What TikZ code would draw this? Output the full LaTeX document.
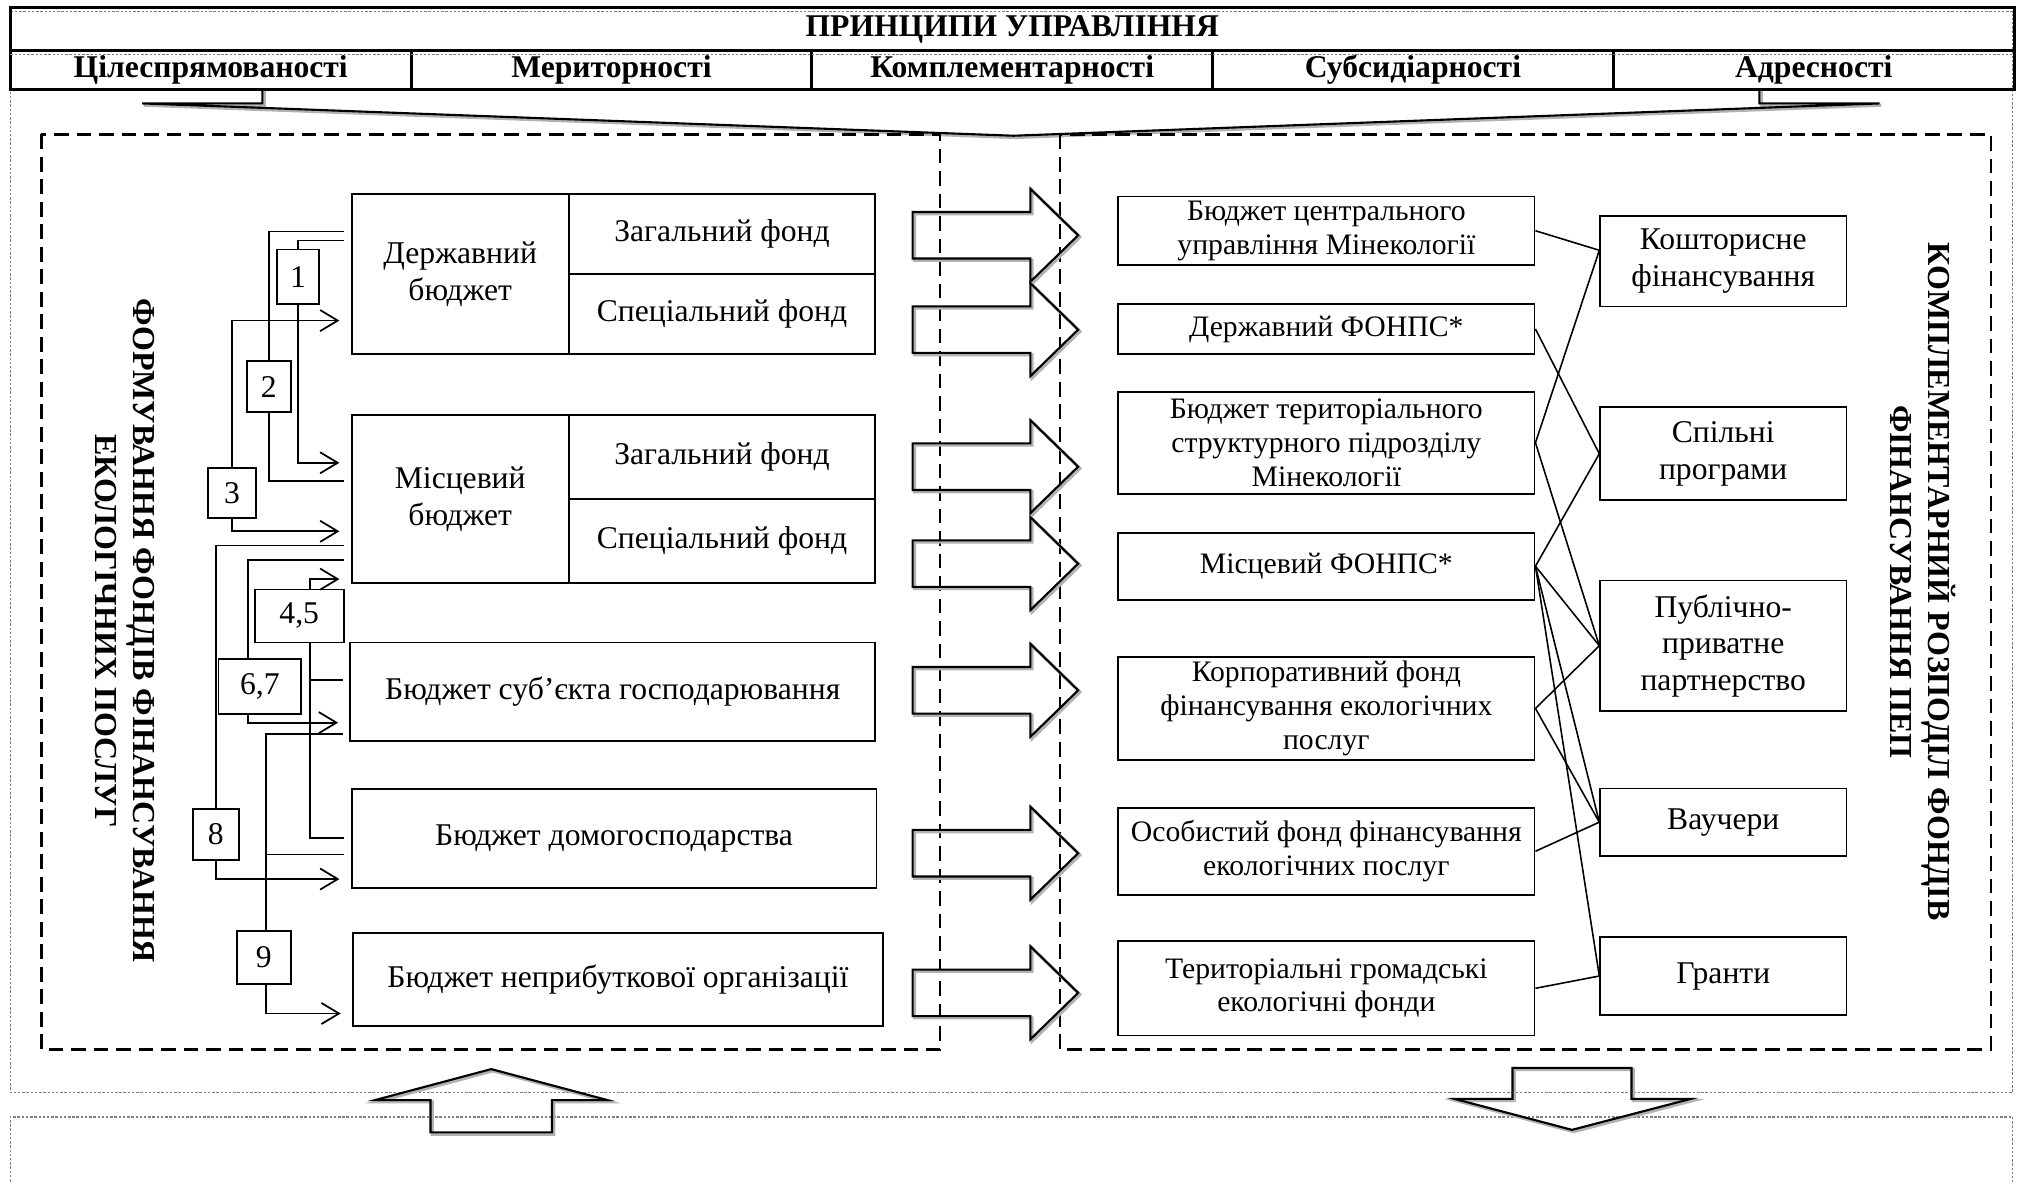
\documentclass[tikz,border=0pt]{standalone}
\usepackage{fontspec}
\setmainfont{Liberation Serif}
\usetikzlibrary{arrows.meta}
\newcommand{\pxu}{0.012927cm}

\begin{document}
\begin{tikzpicture}[x=\pxu, y=-\pxu,
  font=\fontsize{9}{10.4}\selectfont,
  sz/.style 2 args={minimum width=#1*\pxu, minimum height=#2*\pxu},
  box/.style={draw, line width=0.55pt, inner sep=0pt, align=center},
  rbox/.style={box, font=\fontsize{8.45}{9.6}\selectfont},
  fbox/.style={draw, line width=0.45pt, inner sep=0pt, align=center},
  link/.style={line width=0.5pt, shorten >=1.8pt},
  flow/.style={line width=0.5pt, shorten >=3.2pt, -{Straight Barb[length=5pt, width=6pt]}},
  pair/.style={line width=0.45pt},
  zone/.style={line width=0.7pt, dash pattern=on 4.2pt off 2.2pt},
  frame/.style={gray, line width=0.35pt, dash pattern=on 0.7pt off 0.5pt},
  hollow/.style={draw, line width=0.6pt, line join=miter,
    preaction={draw=gray!60, line width=0.9pt, transform canvas={shift={(0.5pt,-0.5pt)}}}},
  head/.style={draw, line width=0.8pt, inner sep=0pt, font=\bfseries\fontsize{9}{10}\selectfont},
  side/.style={rotate=-90, align=center, font=\bfseries\fontsize{9.1}{10.8}\selectfont}
]
\useasboundingbox (0,0) rectangle (1568,914);

% frames
\draw[frame] (8,9) rectangle (1557,845);
\draw[frame] (8,914) -- (8,864) -- (1557,864) -- (1557,914);

% principles
\node[head, sz={1550}{33}] (title) at (783,22.5) {ПРИНЦИПИ УПРАВЛІННЯ};
\foreach \txt [count=\i] in {Цілеспрямованості, Мериторності, Комплементарності, Субсидіарності, Адресності}
  \node[head, sz={310}{30}] (pr\i) at (310*\i-147,54) {\txt};
\draw[frame] (8,42) -- (1557,42);
\draw[hollow] (203,69) -- (203,80) -- (110,80) -- (784,105) -- (1454,80) -- (1361,80) -- (1361,69);

% two zones
\draw[zone] (32,104) rectangle (727,812);
\draw[zone] (820,104) rectangle (1540,812);
\node[side] (ltitle) at (97,488) {ФОРМУВАННЯ ФОНДІВ ФІНАНСУВАННЯ\\ЕКОЛОГІЧНИХ ПОСЛУГ};
\node[side] (rtitle) at (1487.5,450) {КОМПЛЕМЕНТАРНИЙ РОЗПОДІЛ ФОНДІВ\\ФІНАНСУВАННЯ ПЕП};

% budgets
\node[box, sz={168}{124}] (dbud) at (356,212) {Державний\\бюджет};
\node[box, sz={237}{62}] (dzag) at (558.5,181) {Загальний фонд};
\node[box, sz={237}{62}] (dspec) at (558.5,243) {Спеціальний фонд};
\node[box, sz={168}{130}] (mbud) at (356,386) {Місцевий\\бюджет};
\node[box, sz={237}{65}] (mzag) at (558.5,353.5) {Загальний фонд};
\node[box, sz={237}{65}] (mspec) at (558.5,418.5) {Спеціальний фонд};
\node[box, sz={406}{76}] (sgosp) at (474,535) {Бюджет суб’єкта господарювання};
\node[box, sz={406}{77}] (dgosp) at (475,648.5) {Бюджет домогосподарства};
\node[box, sz={410}{72}] (nprib) at (478,758) {Бюджет неприбуткової організації};

% links between budgets
\foreach \nm/\lbl/\cx/\cy/\w/\h in {n1/1/230.5/214/33/42, n2/2/208/299/34/40, n3/3/179.5/381.5/37/39,
    n45/{4,5}/231.5/476.5/69/41, n67/{6,7}/201/531/64/42, n8/8/167/645.5/36/39, n9/9/204/740.5/42/41}
  \node[box, sz={\w}{\h}] (\nm) at (\cx,\cy) {\lbl};
\coordinate (j45) at (240,526);
\coordinate (j9) at (206,661);
\draw[link] (n1.north) |- (dbud.west |- 0,186);
\draw[flow] (n1.south) |- (mbud.west |- 0,358);
\draw[link] (n2.north) |- (dbud.west |- 0,179);
\draw[link] (n2.south) |- (mbud.west |- 0,372);
\draw[flow] (n3.north) |- (dbud.west |- 0,248);
\draw[flow] (n3.south) |- (mbud.west |- 0,411);
\draw[flow] (n45.north -| 240,0) |- (mbud.west |- 0,448);
\draw[link] (n45.south -| 240,0) |- (dgosp.west |- 0,648);
\draw[link] (j45) -- (sgosp.west |- j45);
\draw[link] (n67.north -| 192,0) |- (mbud.west |- 0,433);
\draw[flow] (n67.south -| 192,0) |- (sgosp.west |- 0,559);
\draw[link] (n8.north) |- (mbud.west |- 0,422);
\draw[flow] (n8.south) |- (dgosp.west |- 0,680);
\draw[link] (n9.north -| 206,0) |- (sgosp.west |- 0,568);
\draw[link] (j9) -- (dgosp.west |- j9);
\draw[flow] (n9.south -| 206,0) |- (nprib.west |- 0,784);

% big arrows
\foreach \ay in {182,255,361,436,534,660,768}
  \draw[hollow] (706,\ay-18) -- (797,\ay-18) -- (797,\ay-36) -- (834,\ay)
    -- (797,\ay+36) -- (797,\ay+18) -- (706,\ay+18) -- cycle;

% funds
\foreach \nm/\cy/\h/\txt in {r1/178.5/53/{Бюджет центрального\\управління Мінекології},
    r2/254.5/39/{Державний ФОНПС*},
    r3/342.5/79/{Бюджет територіального\\структурного підрозділу\\Мінекології},
    r4/438/52/{Місцевий ФОНПС*},
    r5/548/80/{Корпоративний фонд\\фінансування екологічних\\послуг},
    r6/658.5/67/{Особистий фонд фінансування\\екологічних послуг},
    r7/764.5/73/{Територіальні громадські\\екологічні фонди}}
  \node[rbox, sz={322}{\h}] (\nm) at (1026,\cy) {\txt};

% forms of financing
\foreach \nm/\cy/\h/\txt in {f1/202/70/{Кошторисне\\фінансування}, f2/351/72/{Спільні\\програми},
    f3/499.5/101/{Публічно-\\приватне\\партнерство}, f4/636/52/{Ваучери}, f5/755/60/{Гранти}}
  \node[fbox, sz={190.5}{\h}] (\nm) at (1333,\cy) {\txt};

\foreach \a/\b in {r1.east/f1.175, r2.east/f2.west, r3.east/f1.175, r3.east/f3.west,
    r4.east/f2.west, r4.east/f3.west, r4.east/f4.west, r4.east/f5.west,
    r5.east/f3.west, r5.east/f4.west, r6.east/f4.west, r7.east/f5.west}
  \draw[pair] (\a) -- (\b);

% bottom arrows
\draw[hollow] (333,876) -- (333,851) -- (290,851) -- (380,827) -- (470,851) -- (427,851) -- (427,876) -- cycle;
\draw[hollow] (1170,826) -- (1262,826) -- (1262,850) -- (1308,850) -- (1216,874) -- (1125,850) -- (1170,850) -- cycle;
\end{tikzpicture}
\end{document}
